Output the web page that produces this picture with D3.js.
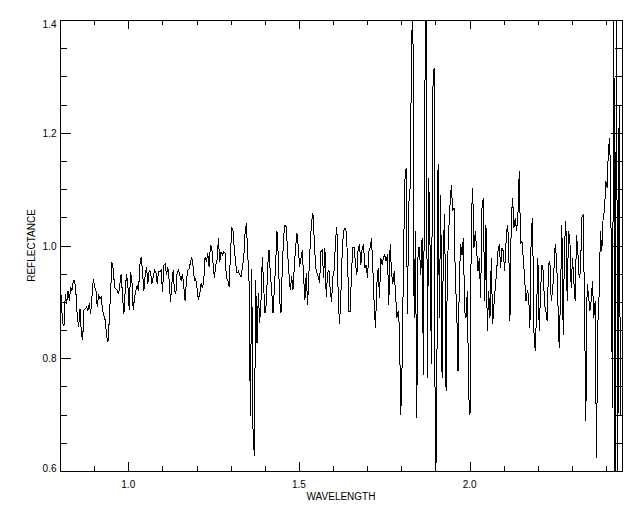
<!DOCTYPE html>
<html>
<head>
<meta charset="utf-8">
<script src="https://cdn.jsdelivr.net/npm/d3@7/dist/d3.min.js"></script>
<style>
  html, body { margin: 0; padding: 0; background: #fff; }
  svg { display: block; }
  text { font-family: "Liberation Sans", Arial, sans-serif; font-size: 10px; fill: #000; }
</style>
</head>
<body>
<svg id="chart" width="640" height="512"></svg>
<script>
// ---- data ----
const wavelengthStart = 0.8;      // micrometres, first sample
const wavelengthStep = 0.0039;    // sampling interval of the spectrum

const reflectanceA = [
0.947,0.902,0.861,0.858,0.914,0.897,0.920,0.902,0.926,0.920,
0.938,0.938,0.914,0.873,0.855,0.888,0.846,0.832,0.885,0.888,
0.891,0.885,0.897,0.879,0.908,0.941,0.926,0.920,0.891,0.914,
0.905,0.908,0.885,0.876,0.867,0.840,0.829,0.867,0.917,0.970,
0.959,0.926,0.923,0.920,0.914,0.932,0.950,0.908,0.879,0.920,
0.950,0.929,0.885,0.953,0.938,0.885,0.908,0.920,0.929,0.920,
0.965,0.979,0.953,0.920,0.947,0.962,0.932,0.956,0.953,0.932,
0.944,0.956,0.953,0.932,0.953,0.953,0.956,0.917,0.965,0.967,
0.947,0.962,0.938,0.900,0.932,0.956,0.920,0.914,0.953,0.956,
0.947,0.938,0.950,0.926,0.902,0.938,0.956,0.959,0.970,0.979,
0.962,0.938,0.941,0.923];

const reflectanceB = [
0.903,0.915,0.933,0.924,0.939,0.980,0.971,0.986,0.962,1.001,
0.995,0.968,0.942,0.965,0.974,1.013,0.971,0.989,0.983,0.989,
0.986,0.942,0.939,0.927,0.980,1.033,1.025,0.992,0.968,0.951,
0.954,0.948,0.945,0.962,0.977,1.022,1.039,0.986,0.936,0.697,
0.959,0.673,0.626,0.939,0.827,0.915,0.862,0.903,0.980,0.927,
0.880,0.897,0.962,0.992,0.951,0.921,0.880,0.921,0.968,1.025,
0.980,0.903,0.880,0.962,1.016,1.036,1.033,0.986,0.951,0.921,
0.945,0.921,0.962,0.998,1.022,0.998,0.962,0.977,0.992,0.945,
0.903,0.951,0.894,0.951,1.004,1.042,1.057,1.010,0.962,0.951,
0.945,0.933,0.989,0.992,0.942,0.995,0.909,0.951,0.957,0.921,
0.900,0.945,0.957,1.010,1.033];

const reflectanceC = [
0.907,0.860,0.913,0.990,1.025,1.031,1.025,0.978,0.883,0.883,
0.954,0.996,0.996,0.966,0.948,0.996,1.002,0.966,0.996,1.002,
0.960,0.966,0.943,0.990,0.996,1.013,0.960,0.895,0.854,0.931,
0.960,0.907,0.978,0.966,0.978,0.984,0.972,0.984,0.895,1.002,
0.954,0.931,0.954,0.919,0.872,0.883,0.854,0.700,0.789,0.966,
1.114,1.138,0.878,1.073,1.102,1.321,1.463,0.872,1.025,0.694,
0.996,0.996,0.948,1.013,0.771,1.250,1.463,0.765,1.120,0.996,
0.789,1.274,1.315,0.517,0.724,1.144,0.872,1.090,0.765,1.002,
1.055,0.742,0.960,1.025,1.073,1.108,1.061,1.067,0.937,0.889,
0.777,0.943,1.002,0.984,1.013,0.883,0.872,0.919,0.736,0.700,
1.049,1.102,0.996,1.025,0.990];

const reflectanceD = [
0.954,0.978,0.907,1.067,1.084,0.901,1.037,0.848,0.919,0.872,
0.978,0.860,0.895,0.925,0.954,0.990,1.002,0.960,0.996,0.990,
0.954,1.002,1.037,1.013,0.866,1.049,1.084,1.031,1.049,1.025,
1.055,1.132,1.002,1.008,0.978,0.943,0.901,0.919,0.913,0.854,
1.025,1.049,0.848,0.813,0.883,0.978,0.848,0.919,0.966,0.954,
0.895,0.883,0.866,0.966,0.972,0.901,0.919,0.954,1.002,0.978,
0.901,0.818,0.913,1.037,0.842,1.002,1.043,0.901,1.025,1.013,
0.925,0.978,0.937,0.901,1.019,0.990,0.943,0.954,1.049,1.055,
0.895,0.688,0.931,0.913,0.883,0.901,0.937,0.872,0.901,0.623,
0.860,0.913,1.025,0.990,1.049,1.061,1.114,1.102,1.173,1.191,
1.019,0.712,1.463,0.517,1.463,0.576,1.250,0.700];

const xMajorTicks = [1.0, 1.5, 2.0];
const xMinorTicks = [0.9, 1.1, 1.2, 1.3, 1.4, 1.6, 1.7, 1.8, 1.9, 2.1, 2.2, 2.3, 2.4];
const xTickLabels = ["1.0", "1.5", "2.0"];
const yMajorTicks = [0.6, 0.8, 1.0, 1.2, 1.4];
const yMinorTicks = [0.65, 0.7, 0.75, 0.85, 0.9, 0.95, 1.05, 1.1, 1.15, 1.25, 1.3, 1.35];
const yTickLabels = ["0.6", "0.8", "1.0", "1.2", "1.4"];
const xTitle = "WAVELENGTH";
const yTitle = "REFLECTANCE";
const xDomain = [0.8, 2.4465];
const yDomain = [0.6, 1.4];

// ---- build ----
const reflectance = reflectanceA.concat(reflectanceB, reflectanceC, reflectanceD);
const spectrum = reflectance.map((r, i) => ({ w: wavelengthStart + i * wavelengthStep, r }));

const W = 640, H = 512;
const margin = { left: 60, right: 18, top: 20, bottom: 41 };
const svg = d3.select("#chart");

const x = d3.scaleLinear().domain(xDomain).range([margin.left, W - margin.right]);
const y = d3.scaleLinear().domain(yDomain).range([H - margin.bottom, margin.top]);

svg.append("rect").attr("width", W).attr("height", H).attr("fill", "#fff");

svg.append("defs").append("clipPath").attr("id", "plotclip")
  .append("rect")
  .attr("x", x.range()[0]).attr("y", y.range()[1])
  .attr("width", x.range()[1] - x.range()[0])
  .attr("height", y.range()[0] - y.range()[1]);

// data line
svg.append("path")
  .datum(spectrum)
  .attr("clip-path", "url(#plotclip)")
  .attr("fill", "none")
  .attr("stroke", "#000")
  .attr("stroke-width", 1)
  .attr("shape-rendering", "crispEdges")
  .attr("d", d3.line().x(d => x(d.w)).y(d => y(d.r)));

// axes (ticks pointing inward, box style)
function addAxis(gen, transform) {
  const g = svg.append("g").attr("transform", transform).call(gen);
  g.selectAll("path, line").attr("stroke", "#000").attr("shape-rendering", "crispEdges");
  g.selectAll("text").remove();
  return g;
}
const noLbl = () => "";
const bx = H - margin.bottom, tx = margin.top, lx = margin.left, rx = W - margin.right;

addAxis(d3.axisBottom(x).tickValues(xMajorTicks).tickSizeInner(-9).tickSizeOuter(0).tickFormat(noLbl), `translate(0,${bx})`);
addAxis(d3.axisBottom(x).tickValues(xMinorTicks).tickSizeInner(-5).tickSizeOuter(0).tickFormat(noLbl), `translate(0,${bx})`);
addAxis(d3.axisTop(x).tickValues(xMajorTicks).tickSizeInner(-9).tickSizeOuter(0).tickFormat(noLbl), `translate(0,${tx})`);
addAxis(d3.axisTop(x).tickValues(xMinorTicks).tickSizeInner(-5).tickSizeOuter(0).tickFormat(noLbl), `translate(0,${tx})`);
addAxis(d3.axisLeft(y).tickValues(yMajorTicks).tickSizeInner(-11).tickSizeOuter(0).tickFormat(noLbl), `translate(${lx},0)`);
addAxis(d3.axisLeft(y).tickValues(yMinorTicks).tickSizeInner(-7).tickSizeOuter(0).tickFormat(noLbl), `translate(${lx},0)`);
addAxis(d3.axisRight(y).tickValues(yMajorTicks).tickSizeInner(-11).tickSizeOuter(0).tickFormat(noLbl), `translate(${rx},0)`);
addAxis(d3.axisRight(y).tickValues(yMinorTicks).tickSizeInner(-7).tickSizeOuter(0).tickFormat(noLbl), `translate(${rx},0)`);

// tick labels
svg.append("g").selectAll("text").data(xMajorTicks).join("text")
  .attr("x", d => x(d)).attr("y", bx + 16.5)
  .attr("text-anchor", "middle")
  .text((d, i) => xTickLabels[i]);

svg.append("g").selectAll("text").data(yMajorTicks).join("text")
  .attr("x", lx - 3.5)
  .attr("y", d => Math.max(Math.min(y(d) + 4.2, bx + 1), tx + 7.5))
  .attr("text-anchor", "end")
  .text((d, i) => yTickLabels[i]);

// titles
svg.append("text")
  .attr("x", (lx + rx) / 2).attr("y", bx + 29)
  .attr("text-anchor", "middle")
  .text(xTitle);

svg.append("text")
  .attr("transform", `translate(35,${(tx + bx) / 2}) rotate(-90)`)
  .attr("text-anchor", "middle")
  .text(yTitle);
</script>
</body>
</html>
